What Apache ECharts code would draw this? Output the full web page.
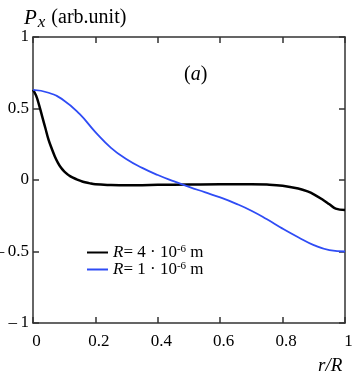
<!DOCTYPE html>
<html>
<head>
<meta charset="utf-8">
<script src="https://cdn.jsdelivr.net/npm/echarts@6/dist/echarts.min.js"></script>
<style>
  html, body { margin: 0; padding: 0; background: #fff; }
  #main { width: 353px; height: 376px; }
</style>
</head>
<body>
<div id="main"></div>
<script>
// r/R positions and Px values
var xBlack = [0, 0.01, 0.02, 0.03, 0.04, 0.05, 0.06, 0.07, 0.08, 0.09, 0.10, 0.12, 0.14, 0.16, 0.18, 0.20,
  0.25, 0.30, 0.35, 0.40, 0.50, 0.60, 0.70, 0.75, 0.80, 0.85, 0.88, 0.90, 0.93, 0.95, 0.97, 1.0];
var yBlack = [0.63, 0.59, 0.52, 0.44, 0.36, 0.28, 0.22, 0.165, 0.12, 0.085, 0.06, 0.025, 0.005, -0.012, -0.022, -0.03,
  -0.035, -0.037, -0.036, -0.034, -0.032, -0.03, -0.03, -0.032, -0.04, -0.06, -0.08, -0.1, -0.14, -0.17, -0.2, -0.21];

var xBlue = [0, 0.05, 0.1, 0.15, 0.2, 0.25, 0.3, 0.35, 0.4, 0.45, 0.5, 0.55, 0.6, 0.65, 0.7, 0.75, 0.8, 0.85, 0.9, 0.95, 1.0];
var yBlue = [0.63, 0.61, 0.555, 0.46, 0.335, 0.225, 0.145, 0.085, 0.035, -0.008, -0.048, -0.085, -0.122, -0.165, -0.215,
  -0.275, -0.34, -0.4, -0.455, -0.49, -0.5];

var seriesNames = ['R4', 'R1'];
var legendText = {
  R4: '{i|R}= 4 · 10{sup|-6} m',
  R1: '{i|R}= 1 · 10{sup|-6} m'
};

var font = "'Liberation Serif', 'Times New Roman', serif";
var axisColor = '#333';

function pairs(xs, ys) {
  return xs.map(function (x, i) { return [x, ys[i]]; });
}

function frameAxis(extra) {
  var a = {
    type: 'value',
    axisLine: { show: true, onZero: false, lineStyle: { color: axisColor, width: 1.5 } },
    axisTick: { show: true, inside: true, length: 6, lineStyle: { color: axisColor, width: 1.5 } },
    axisLabel: { show: false },
    splitLine: { show: false }
  };
  return Object.assign(a, extra);
}

var chartDom = document.getElementById('main');
var myChart = echarts.init(chartDom);
var option;

option = {
  animation: false,
  title: [
    {
      text: '{p|P}{x|x}(arb.unit)',
      left: 19, top: 0,
      textStyle: {
        fontFamily: font, fontSize: 20, fontWeight: 'normal', color: '#000',
        rich: {
          p: { fontFamily: font, fontSize: 21, fontStyle: 'italic', color: '#000' },
          x: { fontFamily: font, fontSize: 17, fontStyle: 'italic', color: '#000', padding: [9, 6, 0, 1] }
        }
      }
    },
    {
      text: '({a|a})',
      left: 179, top: 60,
      textStyle: {
        fontFamily: font, fontSize: 20, fontWeight: 'normal', color: '#000',
        rich: { a: { fontFamily: font, fontSize: 20, fontStyle: 'italic', color: '#000' } }
      }
    },
    {
      text: 'r/R',
      left: 313, top: 351,
      textStyle: { fontFamily: font, fontSize: 19, fontStyle: 'italic', fontWeight: 'normal', color: '#000' }
    }
  ],
  legend: {
    orient: 'vertical',
    left: 82, top: 239,
    itemWidth: 21, itemHeight: 2, itemGap: 0,
    icon: 'rect',
    data: seriesNames,
    formatter: function (name) { return legendText[name]; },
    textStyle: {
      fontFamily: font, fontSize: 17, color: '#000', lineHeight: 17,
      rich: {
        i: { fontFamily: font, fontSize: 17, fontStyle: 'italic', color: '#000', lineHeight: 17 },
        sup: { fontFamily: font, fontSize: 11, color: '#000', lineHeight: 9, verticalAlign: 'top' }
      }
    }
  },
  grid: { left: 33, right: 8, top: 37, bottom: 53, outerBoundsMode: 'none', containLabel: false },
  xAxis: [
    frameAxis({
      min: 0, max: 1, interval: 0.2, position: 'bottom',
      axisLabel: { show: true, fontFamily: font, fontSize: 17, color: '#000', margin: 10, padding: [0, 0, 0, 7] }
    }),
    frameAxis({ min: 0, max: 1, interval: 0.2, position: 'top' })
  ],
  yAxis: [
    frameAxis({
      min: -1, max: 1, interval: 0.5, position: 'left',
      axisLabel: {
        show: true, fontFamily: font, fontSize: 17, color: '#000', margin: 4,
        formatter: function (v) { return v < 0 ? '\u2013\u2009' + Math.abs(v) : String(v); }
      }
    }),
    frameAxis({ min: -1, max: 1, interval: 0.5, position: 'right' })
  ],
  series: [
    {
      name: 'R4', type: 'line', data: pairs(xBlack, yBlack),
      smooth: 0.4, showSymbol: false, symbol: 'none',
      lineStyle: { color: '#000', width: 2.5 },
      itemStyle: { color: '#000' }
    },
    {
      name: 'R1', type: 'line', data: pairs(xBlue, yBlue),
      smooth: 0.5, showSymbol: false, symbol: 'none',
      lineStyle: { color: '#2f4cf5', width: 1.8 },
      itemStyle: { color: '#2f4cf5' }
    }
  ]
};

option && myChart.setOption(option);
</script>
</body>
</html>
